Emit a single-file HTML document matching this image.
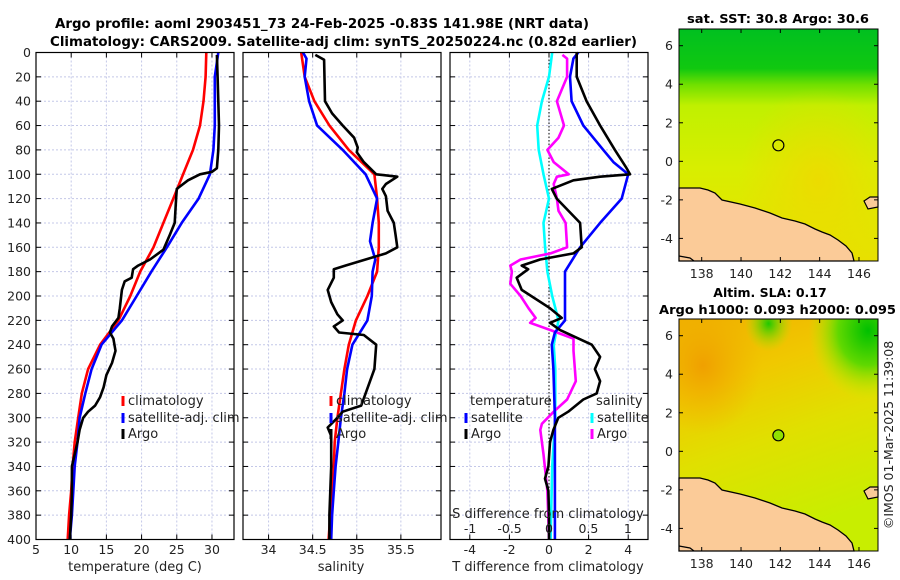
<!DOCTYPE html>
<html><head><meta charset="utf-8">
<style>
html,body{margin:0;padding:0;background:#fff;}
svg{display:block;font-family:"DejaVu Sans","Liberation Sans",sans-serif;}
</style></head>
<body>
<svg id="chart" width="900" height="580" viewBox="0 0 900 580" xmlns="http://www.w3.org/2000/svg">
<defs>
<linearGradient id="sstGrad" x1="0" y1="0" x2="0" y2="1">
<stop offset="0" stop-color="#00c020"/><stop offset="0.17" stop-color="#10c810"/>
<stop offset="0.24" stop-color="#70e000"/><stop offset="0.33" stop-color="#c0f000"/>
<stop offset="0.6" stop-color="#d8ee00"/><stop offset="1" stop-color="#e8e000"/>
</linearGradient>
<radialGradient id="sstWarm" cx="0.7" cy="0.65" r="0.4"><stop offset="0" stop-color="#f0d800" stop-opacity="0.8"/><stop offset="1" stop-color="#f0d800" stop-opacity="0"/></radialGradient>
<linearGradient id="slaGrad" x1="0" y1="0" x2="0.3" y2="1">
<stop offset="0" stop-color="#f0b000"/><stop offset="0.3" stop-color="#f0c800"/>
<stop offset="0.6" stop-color="#e0e000"/><stop offset="1" stop-color="#c8ee00"/>
</linearGradient>
<radialGradient id="slaGreen" cx="0.95" cy="0.05" r="0.3"><stop offset="0" stop-color="#00c000"/><stop offset="0.5" stop-color="#60d800"/><stop offset="1" stop-color="#c0f000" stop-opacity="0"/></radialGradient>
<radialGradient id="slaGreen2" cx="0.45" cy="0.02" r="0.12"><stop offset="0" stop-color="#20c800"/><stop offset="1" stop-color="#a0e800" stop-opacity="0"/></radialGradient>
<radialGradient id="slaOrange" cx="0.12" cy="0.2" r="0.3"><stop offset="0" stop-color="#f0a000"/><stop offset="1" stop-color="#f0b000" stop-opacity="0"/></radialGradient>
</defs>
<g id="content"></g>
</svg>
<script>
// ---- data ----
const depths_clim = [0,20,40,60,80,100,120,140,160,180,200,220,240,260,280,300,320,340,360,380,400];
const temp_clim = [29.2,29.1,28.8,28.3,27.3,25.9,24.5,23.1,21.7,19.8,18.4,16.7,14.1,12.4,11.5,11.0,10.5,10.2,10.0,9.7,9.5];
const depths_sat = [0,20,40,60,80,100,120,140,160,180,200,220,240,260,280,300,320,340,360,380,400];
const temp_sat = [30.9,30.4,30.4,30.4,30.2,29.7,28.1,25.7,23.6,21.4,19.3,17.2,14.3,12.9,12.0,11.2,10.9,10.5,10.3,10.1,9.8];
const depths_argo_t = [2,20,40,60,80,95,98,100,105,112,120,140,150,162,170,175,178,185,188,195,210,218,225,230,235,245,255,265,275,283,290,295,300,310,320,340,360,380,400];
const temp_argo = [30.7,30.8,30.9,31.0,30.9,30.7,30.0,28.3,26.6,25.0,24.9,24.7,24.0,23.1,21.2,19.5,18.8,18.6,17.6,17.2,16.9,16.7,15.8,15.5,16.0,16.3,15.8,15.0,14.6,14.1,13.4,12.4,11.7,11.2,10.9,10.1,10.1,10.0,9.8];
const sal_clim = [34.37,34.41,34.52,34.69,34.91,35.20,35.23,35.25,35.25,35.23,35.12,34.99,34.91,34.86,34.82,34.78,34.75,34.74,34.72,34.70,34.68];
const depths_sal_sat = [0,5,20,40,60,80,100,120,140,155,170,180,200,220,240,260,280,300,320,340,360,380,400];
const sal_sat = [34.39,34.43,34.41,34.46,34.55,34.84,35.10,35.23,35.18,35.15,35.21,35.18,35.17,35.12,34.95,34.89,34.86,34.82,34.79,34.76,34.74,34.72,34.71];
const depths_argo_s = [2,6,40,50,60,70,78,82,90,100,102,108,112,118,130,140,150,160,165,170,175,178,185,195,205,215,220,225,230,232,240,260,280,290,295,300,308,315,340,360,380,400];
const sal_argo = [34.53,34.63,34.64,34.72,34.84,34.97,35.01,35.00,35.08,35.22,35.46,35.33,35.29,35.33,35.35,35.42,35.44,35.46,35.33,35.10,34.87,34.74,34.74,34.67,34.71,34.78,34.84,34.74,34.80,35.08,35.22,35.20,35.10,35.05,34.84,34.78,34.67,34.71,34.71,34.70,34.69,34.69];
const depths_dt_sat = [0,5,20,40,60,80,90,100,120,140,160,180,200,220,230,240,260,300,340,400];
const dT_sat = [1.48,1.23,1.06,1.14,1.73,2.74,3.25,4.0,3.67,2.58,1.57,0.81,0.81,0.81,0.30,0.14,0.22,0.30,0.30,0.30];
const depths_dt_argo = [0,20,40,60,80,95,100,102,105,112,120,140,160,165,170,175,178,185,195,210,218,222,228,240,250,260,270,280,285,295,300,310,320,340,350,360,380,400];
const dT_argo = [1.4,1.4,1.9,2.58,3.33,3.92,4.09,2.58,1.23,0.14,0.39,1.57,1.65,1.23,-0.45,-1.38,-1.05,-1.63,-1.38,0.05,0.64,0.05,0.56,2.16,2.58,2.32,2.58,2.41,1.73,0.97,0.47,0.22,0.05,-0.03,-0.2,-0.03,0.0,0.0];
const depths_ds_sat = [0,20,40,60,80,100,120,140,160,180,200,220,240,260,300,340,400];
const dS_sat = [0.04,0.0,-0.09,-0.15,-0.13,-0.07,0.0,-0.07,-0.05,-0.02,0.04,0.12,0.06,0.08,0.08,0.04,0.02];
const depths_ds_argo = [2,5,20,40,60,70,80,90,100,102,108,120,130,140,160,165,170,175,180,190,200,210,218,222,228,235,245,270,285,295,305,310,330,360,400];
const dS_argo = [0.17,0.23,0.23,0.10,0.19,0.12,-0.02,0.06,0.25,0.10,0.06,0.10,0.12,0.21,0.23,0.02,-0.36,-0.49,-0.47,-0.49,-0.36,-0.26,-0.17,-0.24,0.02,0.31,0.31,0.34,0.23,0.06,-0.09,-0.11,-0.07,-0.02,0.0];
const depth_ticks = [0,20,40,60,80,100,120,140,160,180,200,220,240,260,280,300,320,340,360,380,400];
const temp_ticks = [5,10,15,20,25,30];
const sal_ticks = [34,34.5,35,35.5];
const sal_tick_labels = ["34","34.5","35","35.5"];
const dT_ticks = [-4,-2,0,2,4];
const dS_ticks = [-1,-0.5,0,0.5,1];
const dS_tick_labels = ["-1","-0.5","0","0.5","1"];
const lon_ticks = [138,140,142,144,146];
const lat_ticks = [-4,-2,0,2,4,6];
const argo_pos = [141.9, 0.83];

// ---- helpers ----
const NS="http://www.w3.org/2000/svg";
const root=document.getElementById('content');
function mk(tag,attrs,parent){const e=document.createElementNS(NS,tag);for(const k in attrs)e.setAttribute(k,attrs[k]);(parent||root).appendChild(e);return e;}
function txt(s,x,y,opts,parent){const e=mk('text',Object.assign({x:x,y:y,'font-size':12,fill:'#222'},opts||{}),parent);e.textContent=s;return e;}
const TOP=52.5,BOT=539.5;
const yD=d=>TOP+d*(BOT-TOP)/400;

function panel(name,x0,x1,xmin,xmax){
  const g=mk('g',{});
  
  
  const sx=v=>x0+(v-xmin)*(x1-x0)/(xmax-xmin);
  return {g,sx,x0,x1};
}
function grid(p,xt){
  depth_ticks.forEach(d=>{
    const l=mk('line',{x1:p.x0,x2:p.x1,y1:yD(d),y2:yD(d),stroke:'#c4c8e8','stroke-width':1,'stroke-dasharray':'2,2'},p.g);
    
    
    mk('line',{x1:p.x0,x2:p.x0+5,y1:yD(d),y2:yD(d),stroke:'#000'},p.g);
    mk('line',{x1:p.x1-5,x2:p.x1,y1:yD(d),y2:yD(d),stroke:'#000'},p.g);
  });
  xt.forEach(v=>{
    const X=p.sx(v);
    const l=mk('line',{x1:X,x2:X,y1:TOP,y2:BOT,stroke:'#c4c8e8','stroke-width':1,'stroke-dasharray':'2,2'},p.g);
    
    
    mk('line',{x1:X,x2:X,y1:TOP,y2:TOP+5,stroke:'#000'},p.g);
    mk('line',{x1:X,x2:X,y1:BOT-5,y2:BOT,stroke:'#000'},p.g);
  });
}
function frame(p){
  const r=mk('rect',{x:p.x0,y:TOP,width:p.x1-p.x0,height:BOT-TOP,fill:'none',stroke:'#000','stroke-width':1.2},p.g);
  
  
}
function line(p,xs,ds,color,name,w){
  const pts=xs.map((v,i)=>p.sx(v).toFixed(1)+','+yD(ds[i]).toFixed(1)).join(' ');
  const l=mk('polyline',{points:pts,fill:'none',stroke:color,'stroke-width':w||2.6,'stroke-linejoin':'round'},p.g);
  
  
}
function legendEntry(p,x,y,color,label,name){
  const g=mk('g',{},p.g);
  
  
  mk('line',{x1:x,x2:x,y1:y-9,y2:y+1,stroke:color,'stroke-width':3},g);
  txt(label,x+5,y,{'font-size':13},g);
}

// ---- titles ----
let t=txt('Argo profile: aoml 2903451_73 24-Feb-2025 -0.83S 141.98E (NRT data)',55,28,{'font-size':13,'font-weight':'bold',fill:'#000',textLength:534,lengthAdjust:'spacingAndGlyphs'});


t=txt('Climatology: CARS2009. Satellite-adj clim: synTS_20250224.nc (0.82d earlier)',50,46,{'font-size':13,'font-weight':'bold',fill:'#000',textLength:587,lengthAdjust:'spacingAndGlyphs'});



const XTL=554;
// ---- panel 1 temperature ----
const p1=panel('temperature-panel',36,234,5,33.13);
grid(p1,temp_ticks);
line(p1,temp_clim,depths_clim,'#ff0000','climatology-temp-line');
line(p1,temp_sat,depths_sat,'#0000ff','satellite-temp-line');
line(p1,temp_argo,depths_argo_t,'#000000','argo-temp-line');
frame(p1);
depth_ticks.forEach(d=>{const e=txt(String(d),31,yD(d)+4.5,{'text-anchor':'end','font-size':12.5},p1.g);});
temp_ticks.forEach(v=>{const e=txt(String(v),p1.sx(v),XTL,{'text-anchor':'middle','font-size':12.5},p1.g);});
t=txt('temperature (deg C)',135,571,{'text-anchor':'middle','font-size':13},p1.g);


legendEntry(p1,123,405,'#ff0000','climatology','legend-climatology');
legendEntry(p1,123,422,'#0000ff','satellite-adj. clim','legend-satellite-adj');
legendEntry(p1,123,438,'#000000','Argo','legend-argo');

// ---- panel 2 salinity ----
const p2=panel('salinity-panel',243,441,33.71,35.955);
grid(p2,sal_ticks);
line(p2,sal_clim,depths_clim,'#ff0000','climatology-salinity-line');
line(p2,sal_sat,depths_sal_sat,'#0000ff','satellite-salinity-line');
line(p2,sal_argo,depths_argo_s,'#000000','argo-salinity-line');
frame(p2);
sal_ticks.forEach((v,i)=>{const e=txt(sal_tick_labels[i],p2.sx(v),XTL,{'text-anchor':'middle','font-size':12.5},p2.g);});
t=txt('salinity',341,571,{'text-anchor':'middle','font-size':13},p2.g);


legendEntry(p2,331,405,'#ff0000','climatology','legend-climatology-2');
legendEntry(p2,331,422,'#0000ff','satellite-adj. clim','legend-satellite-adj-2');
legendEntry(p2,331,438,'#000000','Argo','legend-argo-2');

// ---- panel 3 differences ----
const p3=panel('difference-panel',450,648,-5,5);
const p3s={g:p3.g,sx:v=>450+(v+1.255)*(648-450)/2.51,x0:450,x1:648};
grid(p3,dT_ticks);
const zl=mk('line',{x1:p3.sx(0),x2:p3.sx(0),y1:TOP,y2:BOT,stroke:'#000','stroke-width':1,'stroke-dasharray':'1.5,2'},p3.g);


line(p3s,dS_sat,depths_ds_sat,'#00ffff','satellite-salinity-diff-line');
line(p3s,dS_argo,depths_ds_argo,'#ff00ff','argo-salinity-diff-line');
line(p3,dT_sat,depths_dt_sat,'#0000ff','satellite-temp-diff-line');
line(p3,dT_argo,depths_dt_argo,'#000000','argo-temp-diff-line');
frame(p3);
dT_ticks.forEach(v=>{const e=txt(String(v),p3.sx(v),XTL,{'text-anchor':'middle','font-size':12.5},p3.g);});
dS_ticks.forEach((v,i)=>{const e=txt(dS_tick_labels[i],p3s.sx(v),533,{'text-anchor':'middle','font-size':12.5},p3.g);});
t=txt('S difference from climatology',548,518,{'text-anchor':'middle','font-size':13},p3.g);


t=txt('T difference from climatology',548,571,{'text-anchor':'middle','font-size':13},p3.g);


t=txt('temperature',470,405,{'font-size':13},p3.g);


t=txt('salinity',596,405,{'font-size':13},p3.g);


legendEntry(p3,466,422,'#0000ff','satellite','legend-temp-satellite');
legendEntry(p3,466,438,'#000000','Argo','legend-temp-argo');
legendEntry(p3,592,422,'#00ffff','satellite','legend-sal-satellite');
legendEntry(p3,592,438,'#ff00ff','Argo','legend-sal-argo');

// ---- maps ----
function map(name,top,fills,title1,title2){
  const g=mk('g',{});
  
  
  const L=679,R=878,B=top+232;
  const lx=lon=>701.7+(lon-138)*19.66;
  const ly=lat=>top+16.7+(6-lat)*19.27;
  fills.forEach(f=>mk('rect',{x:L,y:top,width:R-L,height:B-top,fill:f},g));
  const land=[[679,188],[700,188],[708,190],[715,193],[722,200],[740,204],[755,208],[770,213],[782,218],[795,221],[805,224],[815,229],[822,232],[830,235],[838,240],[846,246],[852,253],[854,261],[679,261]];
  const lp=mk('polygon',{points:land.map(p=>p[0]+','+(p[1]-29+top)).join(' '),fill:'#fbcb98',stroke:'#000','stroke-width':1.3},g);
  
  
  const isl=mk('path',{d:`M864,${top+172} L870,${top+168} L878,${top+168} L878,${top+178} L868,${top+180} Z`,fill:'#fbcb98',stroke:'#000','stroke-width':1.2},g);
  
  
  mk('path',{d:`M679,${top+227} L690,${top+229} L694,${top+232}`,fill:'none',stroke:'#000','stroke-width':1.2},g);
  const c=mk('circle',{cx:lx(argo_pos[0]),cy:ly(argo_pos[1]),r:5.5,fill:name==='sla-map'?'#90e000':'none',stroke:'#000','stroke-width':1.2},g);
  
  
  mk('rect',{x:L,y:top,width:R-L,height:B-top,fill:'none',stroke:'#000','stroke-width':1},g);
  lat_ticks.forEach(v=>{
    mk('line',{x1:L,x2:L+4,y1:ly(v),y2:ly(v),stroke:'#000'},g);
    mk('line',{x1:R-4,x2:R,y1:ly(v),y2:ly(v),stroke:'#000'},g);
    const e=txt(String(v),673,ly(v)+4.5,{'text-anchor':'end','font-size':12.5},g);
    
    
  });
  lon_ticks.forEach(v=>{
    mk('line',{x1:lx(v),x2:lx(v),y1:B-4,y2:B,stroke:'#000'},g);
    mk('line',{x1:lx(v),x2:lx(v),y1:top,y2:top+4,stroke:'#000'},g);
    const e=txt(String(v),lx(v),B+17,{'text-anchor':'middle','font-size':12.5},g);
    
    
  });
  if(title2){
    let a=txt(title1,770,top-22,{'text-anchor':'middle','font-size':12.5,'font-weight':'bold',fill:'#000'},g);
    
    
    a=txt(title2,659,top-5,{'font-size':12.5,'font-weight':'bold',fill:'#000',textLength:237,lengthAdjust:'spacingAndGlyphs'},g);
    
    
  } else {
    const a=txt(title1,687,23,{'font-size':12.5,'font-weight':'bold',fill:'#000',textLength:182,lengthAdjust:'spacingAndGlyphs'},g);
    
    
  }
}
map('sst-map',29,['url(#sstGrad)','url(#sstWarm)'],'sat. SST: 30.8 Argo: 30.6');
map('sla-map',319,['url(#slaGrad)','url(#slaOrange)','url(#slaGreen)','url(#slaGreen2)'],'Altim. SLA: 0.17','Argo h1000: 0.093 h2000: 0.095');
t=txt('©IMOS 01-Mar-2025 11:39:08',0,0,{'font-size':12.5,'text-anchor':'middle',transform:'translate(893,435) rotate(-90)'});


</script>
</body></html>
